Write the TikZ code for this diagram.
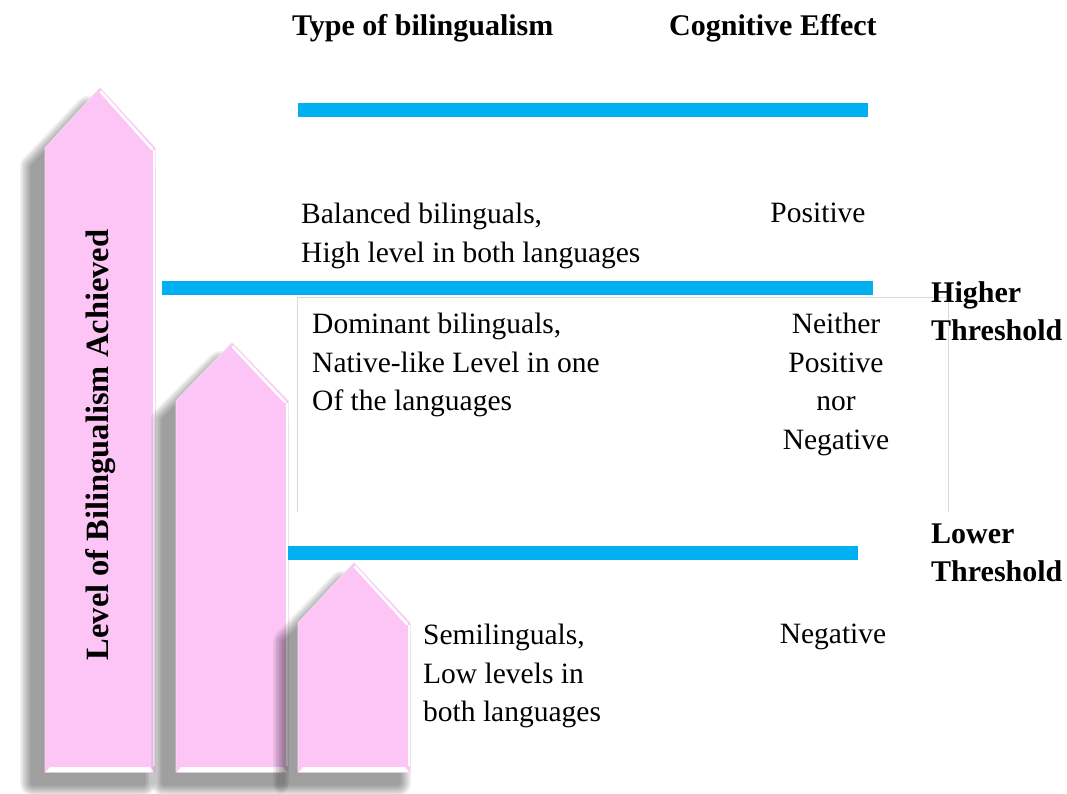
\documentclass[tikz,border=0pt]{standalone}
\usepackage{fontspec}
\setmainfont{Liberation Serif}
\definecolor{barblue}{RGB}{0,176,240}
\definecolor{arrowpink}{RGB}{252,197,245}
\definecolor{arrowedge}{RGB}{245,215,242}
\definecolor{framegray}{RGB}{217,217,217}

% soft shadow of an upward block arrow: left x, right x, tip y, shoulder y, bottom y
\newcommand\blockshadow[5]{%
  \foreach \w in {26,23,20,17,14,11,8,5}{%
    \begin{scope}[transparency group, opacity=0.055]
      \filldraw[black, line width=\w pt, line join=round,
                xshift=-12pt, yshift=-11pt]
        (#1,#5) -- (#1,#4+8) -- ({(#1+#2)/2},#3+10) -- (#2,#4+8) -- (#2,#5) -- cycle;
    \end{scope}
  }%
}
% the block arrow itself, with a light bevel on its right side and foot
\newcommand\blockarrow[5]{%
  \filldraw[fill=arrowpink, draw=arrowedge, line width=1pt, line join=miter]
    (#1,#5) -- (#1,#4) -- ({(#1+#2)/2},#3) -- (#2,#4) -- (#2,#5) -- cycle;
  \draw[white, line width=2.5pt, line cap=round]
    ({(#1+#2)/2+1},#3+4) -- (#2-3,#4+1);
  \draw[white, line width=1.2pt] (#2-1,#4+2) -- (#2-1,#5-6);
  \fill[white] (#1+1,#5) -- (#1+5,#5-5) -- (#2-5,#5-5) -- (#2-1,#5) -- cycle;
}

\tikzset{
  bluebar/.style={draw=barblue, line width=14pt},
  frameline/.style={draw=framegray, line width=0.8pt},
  bodytext/.style={font=\fontsize{29.5}{38.5}\selectfont, inner sep=0pt, align=left},
  effecttext/.style={font=\fontsize{29.5}{38.5}\selectfont, inner sep=0pt, align=center},
  headtext/.style={font=\fontsize{30}{38}\selectfont\bfseries, inner sep=0pt, align=left},
}

\begin{document}
\begin{tikzpicture}[x=1pt,y=-1pt]
\useasboundingbox (0,0) rectangle (1067,793);
\fill[white] (0,0) rectangle (1067,793);

% thin frame around the middle band
\draw[frameline] (297,512) -- (297,297) -- (948,297) -- (948,512);

% shadows and block arrows
\blockshadow{45}{155}{88}{148}{772}
\blockarrow{45}{155}{88}{148}{772}
\blockshadow{176}{288}{343}{401}{772}
\blockarrow{176}{288}{343}{401}{772}
\blockshadow{298}{410}{563}{623}{772}
\blockarrow{298}{410}{563}{623}{772}

% threshold bars
\coordinate (b1l) at (298,110); \coordinate (b1r) at (868,110);
\coordinate (b2l) at (162,288); \coordinate (b2r) at (873,288);
\coordinate (b3l) at (288,553); \coordinate (b3r) at (858,553);
\draw[bluebar] (b1l) -- (b1r);
\draw[bluebar] (b2l) -- (b2r);
\draw[bluebar] (b3l) -- (b3r);

% headings
\node[headtext, anchor=base west] (htype) at (292,35) {Type of bilingualism};
\node[headtext, anchor=base west] (heffect) at (669,35) {Cognitive Effect};

% vertical axis label
\node[font=\fontsize{32.5}{36}\selectfont\bfseries, rotate=90, inner sep=0pt]
  (axis) at (101,445) {Level of Bilingualism Achieved};

% rows
\node[bodytext, anchor=north west] (balanced) at (301,203)
  {Balanced bilinguals,\\High level in both languages};
\node[effecttext, anchor=north] (positive) at (818,203) {Positive};

\node[bodytext, anchor=north west] (dominant) at (312,313)
  {Dominant bilinguals,\\Native-like Level in one\\Of the languages};
\node[effecttext, anchor=north] (neither) at (836,313)
  {Neither\\Positive\\nor\\Negative};

\node[bodytext, anchor=north west] (semi) at (423,624)
  {Semilinguals,\\Low levels in\\both languages};
\node[effecttext, anchor=north] (negative) at (833,624) {Negative};

% threshold labels
\node[headtext, anchor=north west] (higher) at (931,281) {Higher\\Threshold};
\node[headtext, anchor=north west] (lower) at (931,524) {Lower\\Threshold};
\end{tikzpicture}
\end{document}
